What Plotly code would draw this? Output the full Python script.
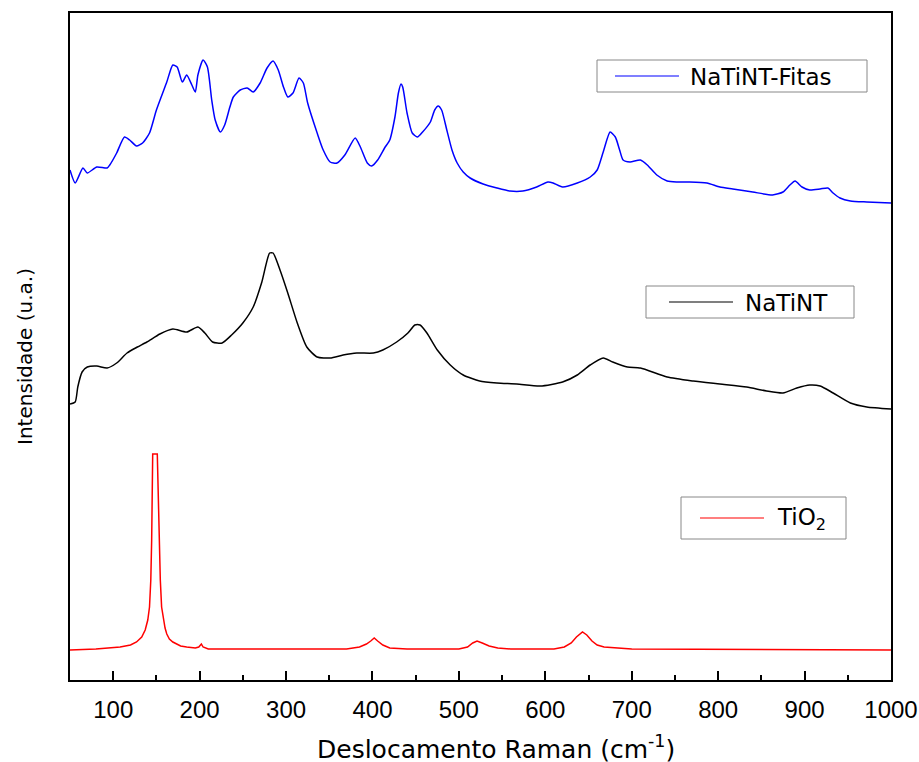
import plotly.graph_objects as go

# ---------------- data (Raman shift cm^-1, intensity in arbitrary units) ----------------
fitas_x = [50, 56, 65, 70, 81, 93, 96, 104, 113, 119, 127, 134, 142, 150, 162, 169, 174, 180, 185, 191,
           195, 198, 204, 209, 214, 218, 224, 229, 235, 239, 247, 255, 262, 270, 278, 285, 291, 297, 302,
           308, 315, 320, 325, 336, 343, 351, 359, 368, 380, 386, 394, 399, 406, 414, 420, 426, 430, 433,
           435, 440, 446, 452, 458, 467, 472, 476, 480, 486, 492, 498, 505, 513, 528, 544, 559, 574, 590,
           603, 609, 620, 637, 652, 660, 667, 675, 681, 686, 690, 698, 710, 718, 729, 741, 752, 767, 787,
           802, 817, 840, 863, 875, 883, 889, 897, 906, 918, 927, 933, 941, 953, 972, 1000]
fitas_y = [510, 497, 512, 507, 513, 512, 515, 527, 543, 540, 534, 537, 547, 570, 598, 615, 613, 598, 605, 595,
           588, 605, 620, 613, 580, 560, 548, 555, 573, 583, 590, 592, 588, 597, 612, 619, 610, 593, 583,
           587, 602, 597, 577, 547, 530, 518, 517, 525, 542, 533, 517, 514, 520, 532, 540, 563, 587, 596,
           593, 567, 547, 543, 548, 558, 570, 574, 570, 550, 530, 517, 508, 502, 496, 492, 489, 489, 493,
           498, 497, 493, 497, 503, 510, 528, 548, 543, 530, 520, 518, 520, 515, 505, 499, 498, 498, 497,
           493, 491, 488, 485, 488, 495, 499, 493, 490, 491, 492, 487, 482, 479, 478, 477]

natint_x = [50, 56, 59, 64, 70, 81, 93, 104, 116, 128, 139, 154, 169, 185, 198, 206, 215, 226, 237, 250,
            262, 272, 281, 285, 293, 302, 313, 324, 336, 351, 366, 382, 401, 412, 428, 441, 449, 455, 463,
            475, 490, 505, 524, 544, 567, 594, 620, 637, 652, 667, 678, 695, 710, 741, 771, 802, 833, 856,
            875, 891, 906, 918, 933, 953, 972, 1000]
natint_y = [276, 278, 293, 308, 313, 314, 312, 317, 327, 333, 338, 346, 351, 348, 353, 347, 338, 337, 345, 357,
            373, 398, 427, 427, 410, 387, 357, 333, 323, 322, 325, 327, 327, 330, 338, 347, 355, 355, 347,
            330, 315, 305, 299, 297, 296, 294, 298, 305, 315, 322, 318, 313, 312, 303, 299, 296, 293, 289,
            287, 292, 295, 294, 287, 277, 273, 271]

tio2_x = [50, 80, 108, 120, 127, 133, 137, 140, 142, 143.5, 144.5, 145.7, 151, 152, 153.3, 154.5, 156, 158,
          160, 162, 165, 169, 178, 185, 195, 199, 202, 204, 210, 300, 370, 385, 393, 398, 402, 406, 412,
          420, 440, 500, 510, 516, 521, 527, 535, 545, 560, 610, 622, 630, 636, 643, 648, 654, 660, 668,
          680, 700, 1000]
tio2_y = [30, 31, 33, 35, 38, 43, 50, 60, 73, 100, 140, 226, 226, 180, 140, 100, 73, 60,
          52, 46, 41, 38, 34, 33, 32, 33, 36, 33, 31, 31, 31, 33, 36, 39, 42, 39, 35,
          32, 31, 31, 33, 37, 39, 37, 34, 32, 31, 31, 33, 37, 43, 48, 45, 39, 35, 33,
          32, 31, 30]

series_names = ["NaTiNT-Fitas", "NaTiNT", "TiO<sub>2</sub>"]
series_colors = ["#0000ff", "#000000", "#ff0000"]
x_ticks = [100, 200, 300, 400, 500, 600, 700, 800, 900, 1000]

# ---------------- figure ----------------
W, H = 919, 762
L, R, T, B = 70, 28, 13, 82
PW, PH = W - L - R, H - T - B


def px(xp):
    return (xp - L) / PW


def py(yp):
    return (H - B - yp) / PH


FONT = "DejaVu Sans"

fig = go.Figure()
for xs, ys, name, col, shape in zip([fitas_x, natint_x, tio2_x], [fitas_y, natint_y, tio2_y],
                                    series_names, series_colors, ["spline", "spline", "linear"]):
    line = dict(color=col, width=1.5, shape=shape)
    if shape == "spline":
        line["smoothing"] = 0.6
    fig.add_trace(go.Scatter(x=xs, y=ys, mode="lines", name=name, line=line, showlegend=False))

# legend boxes drawn manually: (box x0, y0, x1, y1, line x0, x1, text x)
legend_boxes = [
    (597, 60, 867, 92, 615, 679, 688),
    (646, 286, 854, 318, 669, 733, 743),
    (681, 497, 846, 539, 700, 764, 775),
]
shapes = []
annotations = []
for (bx0, by0, bx1, by1, lx0, lx1, tx), name, col in zip(legend_boxes, series_names, series_colors):
    shapes.append(dict(type="rect", xref="paper", yref="paper",
                       x0=px(bx0), x1=px(bx1), y0=py(by1), y1=py(by0),
                       line=dict(color="#888888", width=1), fillcolor="white", layer="above"))
    ym = (by0 + by1) / 2
    shapes.append(dict(type="line", xref="paper", yref="paper",
                       x0=px(lx0), x1=px(lx1), y0=py(ym), y1=py(ym),
                       line=dict(color=col, width=1.2), layer="above"))
    annotations.append(dict(xref="paper", yref="paper", x=px(tx), y=py(ym + 1),
                            xanchor="left", yanchor="middle", showarrow=False,
                            text=name, font=dict(family=FONT, size=23, color="black")))

annotations.append(dict(xref="paper", yref="paper", x=px(496), y=py(747),
                        xanchor="center", yanchor="middle", showarrow=False,
                        text="Deslocamento Raman (cm<sup>-1</sup>)",
                        font=dict(family=FONT, size=25, color="black")))
annotations.append(dict(xref="paper", yref="paper", x=px(25), y=py(357),
                        xanchor="center", yanchor="middle", showarrow=False, textangle=-90,
                        text="Intensidade (u.a.)",
                        font=dict(family=FONT, size=20, color="black")))

fig.update_layout(
    width=W, height=H,
    margin=dict(l=L, r=R, t=T, b=B, autoexpand=False),
    paper_bgcolor="white", plot_bgcolor="white",
    font=dict(family=FONT, size=17, color="black"),
    shapes=shapes, annotations=annotations,
    showlegend=False,
)
fig.update_xaxes(range=[50, 1000], tickmode="array", tickvals=x_ticks,
                 ticktext=[str(v) for v in x_ticks],
                 ticks="inside", ticklen=9, tickwidth=1.5, tickcolor="black",
                 minor=dict(ticks="inside", ticklen=5, tickwidth=1.5, tickcolor="black",
                            tickmode="array", tickvals=[v - 50 for v in x_ticks]),
                 showline=True, linecolor="black", linewidth=2, mirror=True,
                 showgrid=False, zeroline=False, automargin=False,
                 tickfont=dict(family="Liberation Sans", size=24, color="black"),
                 ticklabelstandoff=7)
fig.update_yaxes(range=[0, PH], showticklabels=False, ticks="",
                 showline=True, linecolor="black", linewidth=2, mirror=True,
                 showgrid=False, zeroline=False, automargin=False)

fig.write_html("out.html")
